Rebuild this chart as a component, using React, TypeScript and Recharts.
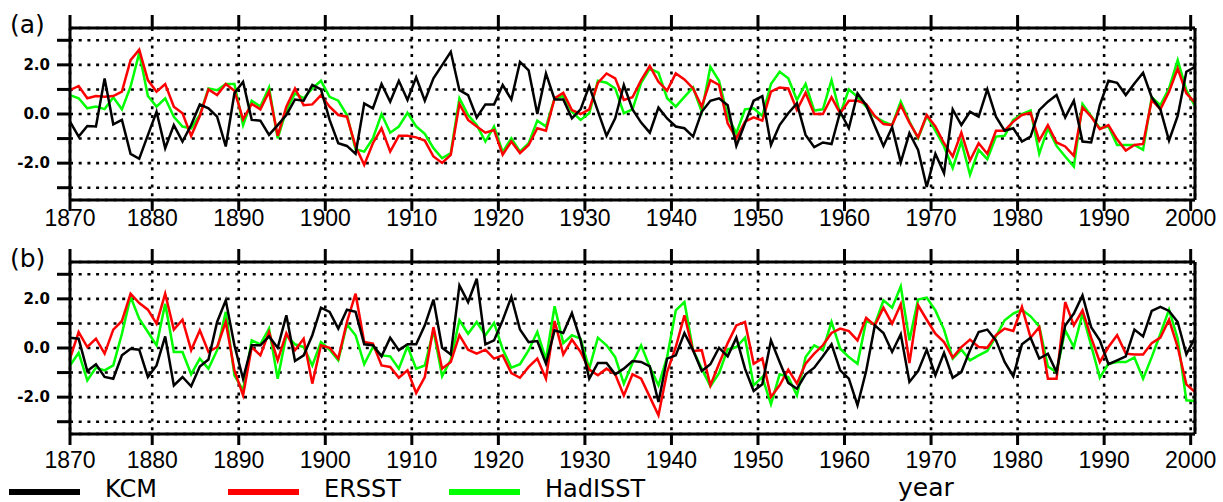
import React from "react";
import { LineChart, Line, XAxis, YAxis, CartesianGrid } from "recharts";

// years 1870..2000, plotted at mid-year
const years = Array.from({ length: 131 }, (_, i) => 1870 + i);

const kcmA = [
  -0.31, -0.92, -0.49, -0.51, 1.45, -0.42, -0.24, -1.62, -1.82, -0.86,
  0.09, -1.39, -0.45, -1.12, -0.45, 0.39, 0.23, -0.11, -1.32, 0.84,
  1.31, -0.24, -0.27, -0.85, -0.45, -0.04, 0.59, 0.54, 1.18, 1.0,
  -0.24, -1.19, -1.3, -1.62, 0.43, 0.23, 1.22, 0.5, 1.35, 0.57,
  1.49, 0.54, 1.45, 1.99, 2.53, 0.97, 0.77, -0.14, 0.39, 0.39,
  1.18, 0.59, 2.12, 1.78, 0.0, 1.65, 0.59, 0.59, -0.18, 0.19,
  1.14, 0.12, -0.89, -0.18, 1.18, 0.19, -0.35, -0.76, 0.26, -0.18,
  -0.51, -0.58, -0.92, 0.09, 0.54, 0.64, 0.36, -1.3, -0.38, 0.54,
  0.73, -1.26, -0.45, 0.03, 0.43, -0.85, -1.35, -1.16, -1.22, 0.09,
  -0.58, 0.84, 0.36, -0.49, -1.3, -0.54, -1.97, -0.78, -1.46, -2.97,
  -1.62, -2.41, 0.19, -0.45, 0.09, -0.11, 1.0, -0.11, -0.68, -0.58,
  -1.12, -0.92, 0.16, 0.5, 0.77, -0.14, 0.54, -1.12, -1.16, 0.36,
  1.35, 1.27, 0.77, 1.24, 1.68, 0.68, 0.19, -1.08, -0.08, 1.72, 1.92,
];
const ersstA = [
  0.97, 1.14, 0.64, 0.73, 0.7, 0.73, 0.91, 2.19, 2.62, 1.38,
  0.91, 1.22, 0.3, 0.03, -0.89, -0.08, 1.0, 0.77, 1.22, 0.95,
  -0.22, 0.41, 0.19, 0.91, -0.89, 0.3, 1.04, 0.36, 0.39, 0.77,
  0.3, -0.04, -0.11, -1.32, -2.07, -1.19, -0.58, -1.53, -0.89, -0.89,
  -0.95, -1.08, -1.73, -1.99, -1.66, 0.41, -0.24, -0.51, -0.76, -0.65,
  -1.66, -1.12, -1.59, -1.26, -0.58, -0.68, 0.64, 0.86, 0.16, 0.0,
  0.19, 1.27, 1.65, 1.45, 0.57, 0.68, 1.38, 1.95, 1.31, 0.95,
  1.65, 1.41, 1.04, 0.3, 1.38, 1.18, -0.38, -0.99, -0.31, -0.14,
  -0.27, 0.91, 1.08, 1.04, 0.16, 0.86, 0.0, 0.0, 0.68, 0.03,
  0.54, 0.54, 0.41, -0.08, -0.41, -0.45, 0.36, -0.35, -0.95, -0.04,
  -0.51, -1.19, -1.73, -0.76, -1.89, -1.19, -1.62, -0.68, -0.68, -0.31,
  -0.04, 0.05, -1.08, -0.45, -1.16, -1.32, -1.7, 0.27, -0.11, -0.62,
  -0.45, -1.03, -1.49, -1.26, -1.22, 0.57, 0.19, 0.91, 1.85, 0.84, 0.46,
];
const hadA = [
  0.77, 0.64, 0.23, 0.3, 0.2, 0.68, 0.19, 1.11, 2.49, 0.73,
  0.3, 0.64, -0.11, -0.51, -0.58, -0.04, 1.04, 0.97, 1.22, 1.22,
  -0.45, 0.54, 0.3, 1.08, -0.99, 0.16, 0.84, 0.64, 1.04, 1.35,
  0.7, 0.54, -0.04, -1.43, -1.53, -0.99, 0.0, -0.76, -0.51, 0.05,
  -0.51, -0.81, -1.39, -1.8, -1.59, 0.64, -0.04, -0.45, -1.12, -0.51,
  -1.55, -0.99, -1.53, -1.19, -0.27, -0.51, 0.64, 0.73, 0.09, -0.24,
  0.03, 1.35, 1.27, 1.04, 0.03, 0.19, 1.27, 1.85, 1.68, 0.64,
  0.3, 0.7, 1.08, 0.09, 1.92, 1.35, -0.1, -0.78, 0.19, 0.23,
  -0.08, 1.22, 1.72, 1.45, 0.57, 1.22, 0.14, 0.19, 1.38, 0.0,
  1.0, 0.7, 0.3, -0.11, -0.31, -0.45, 0.5, -0.31, -0.99, -0.08,
  -0.68, -1.32, -2.2, -1.12, -2.47, -1.46, -1.84, -0.92, -0.89, -0.24,
  0.0, 0.14, -1.62, -0.58, -1.3, -1.73, -2.14, 0.41, -0.08, -0.58,
  -0.51, -1.26, -1.26, -1.26, -1.46, 0.68, 0.36, 1.04, 2.19, 0.97, 0.32,
];

const kcmB = [
  0.42, 0.38, -0.94, -0.66, -1.18, -1.25, -0.3, -0.03, -0.07, -1.18,
  -0.71, 0.47, -1.52, -1.18, -1.56, -0.75, -0.47, 1.06, 1.94, 0.11,
  -1.25, 0.11, 0.11, 0.47, 0.01, 1.33, -0.53, -0.3, 0.52, 1.64,
  1.47, 0.79, 1.56, 1.47, 0.15, 0.11, -0.34, 0.42, -0.09, 0.15,
  0.15, 0.92, 1.97, 0.01, -0.26, 2.55, 1.87, 2.82, 0.15, 0.31,
  1.13, 2.08, 0.75, 0.24, 0.28, -0.64, 0.72, 0.61, 1.42, 0.31,
  -1.25, -0.61, -0.61, -1.07, -0.84, -0.53, -0.57, -0.75, -2.2, -0.43,
  -0.3, 0.61, -0.09, -0.94, -0.66, 0.01, -0.34, 0.42, -0.84, -1.75,
  -1.48, 0.31, -0.57, -1.42, -1.66, -1.07, -0.8, -0.34, 0.15, -0.91,
  -1.25, -2.33, -0.94, 0.92, 0.61, -0.16, 0.56, -1.38, -0.94, -0.07,
  -1.11, -0.2, -1.21, -0.98, -0.09, 0.65, 0.75, 0.31, -0.57, -1.15,
  0.15, 0.42, -0.43, -0.23, -0.98, 0.92, 1.4, 2.14, 0.85, 0.31,
  -0.66, -0.5, -0.34, 0.75, 0.47, 1.51, 1.67, 1.51, 1.06, -0.26, 0.42,
];
const ersstB = [
  -0.43, 0.65, 0.04, 0.38, -0.23, 0.75, 1.1, 2.21, 1.83, 1.56,
  0.99, 2.21, 0.75, 1.15, -0.09, 0.72, -0.16, 0.04, 1.06, -0.91,
  -1.93, 0.04, -0.3, 0.65, -0.5, 0.6, -0.09, 0.38, -1.45, 0.11,
  0.01, -0.43, 1.06, 2.21, 0.24, 0.18, -0.71, -0.77, -1.21, -0.91,
  -1.83, -1.18, 0.85, -0.84, -0.57, 0.52, -0.07, -0.23, -0.07, -0.43,
  -0.3, -1.02, -1.21, -0.77, -0.43, -1.25, 1.1, -0.26, 0.34, -0.16,
  -0.88, -1.11, -0.84, -1.07, -1.93, -1.07, -1.25, -1.99, -2.74, -0.98,
  0.04, 1.33, -0.12, -0.09, -1.52, -0.64, 0.2, 0.92, 1.06, -0.64,
  -0.43, -1.99, -1.52, -0.88, -1.45, -0.64, -0.23, 0.11, 0.61, 0.79,
  0.69, 0.31, 1.23, 0.92, 1.64, 0.99, 1.78, -0.61, 1.74, 1.15,
  0.58, 0.24, -0.39, 0.04, 0.34, 0.04, 0.01, 0.52, 0.79, 0.69,
  1.67, 0.42, 0.85, -1.25, -1.25, 1.87, 0.92, 1.53, 0.42, -0.57,
  0.04, 0.52, -0.23, -0.26, -0.26, 0.2, 0.42, 1.15, 0.04, -1.48, -1.79,
];
const hadB = [
  -0.71, -0.2, -1.32, -0.8, -0.91, -0.71, 0.58, 2.08, 1.19, 0.65,
  0.11, 1.8, -0.16, -0.16, -1.07, -0.43, -0.84, -0.09, 1.47, -1.11,
  -1.72, 0.31, 0.15, 0.79, -1.25, 0.52, 0.15, 0.04, -0.71, 0.24,
  -0.07, -0.5, 0.96, 0.52, -0.66, 0.04, -0.3, -0.34, -0.84, 0.07,
  -0.84, -0.71, 0.72, -1.15, -0.47, 1.13, 0.58, 1.06, 0.52, 1.02,
  -0.05, -0.8, -0.66, -0.09, 0.65, -0.47, 1.7, 0.2, 0.52, 0.38,
  -0.84, 0.42, 0.11, -0.37, -1.45, -0.61, 0.11, -0.77, -1.52, -0.37,
  1.53, 1.87, -0.09, -0.84, -1.56, -1.02, -0.05, 0.04, 0.42, -1.52,
  -1.18, -2.29, -1.07, -1.18, -1.93, -0.37, 0.11, -0.09, 1.06, -0.03,
  -0.37, -0.64, 1.1, 0.96, 1.94, 1.64, 2.51, 0.31, 1.97, 2.05,
  1.53, 0.75, -0.43, -0.07, -0.5, -0.3, -0.12, 0.47, 1.13, 1.4,
  1.56, 1.29, 0.88, -0.75, -0.98, 0.72, 0.04, 1.4, 0.11, -1.21,
  -0.64, -0.57, -0.57, -0.39, -1.25, -0.37, 0.58, 1.56, 0.38, -2.13, -2.16,
];

const xTicks = [1870.5, 1880, 1890, 1900, 1910, 1920, 1930, 1940, 1950, 1960, 1970, 1980, 1990, 2000];
const yTicks = [-3, -2, -1, 0, 1, 2, 3];
const series = [
  { key: "kcm", name: "KCM", color: "#000000" },
  { key: "ersst", name: "ERSST", color: "#ff0000" },
  { key: "had", name: "HadISST", color: "#00ff00" },
];

const X_DOMAIN: [number, number] = [1870.5, 2000.5];
const Y_DOMAIN: [number, number] = [-3.5, 3.5];
const axisLine = { stroke: "#000", strokeWidth: 3 };
const tickLine = { stroke: "#000", strokeWidth: 3 };

function buildRows(kcm: number[], ersst: number[], had: number[]) {
  return years.map((y, i) => ({ x: y + 0.5, kcm: kcm[i], ersst: ersst[i], had: had[i] }));
}

function Panel({
  rows,
  label,
  top,
  labelGap,
}: {
  rows: any[];
  label: string;
  top: number;
  labelGap: number;
}) {
  return (
    <div style={{ position: "absolute", left: 0, top, width: 1223, height: 250 }}>
      <div
        style={{
          position: "absolute",
          left: 10,
          top: 10,
          fontFamily: "DejaVu Sans",
          fontSize: 25,
          lineHeight: "30px",
        }}
      >
        {label}
      </div>
      <LineChart width={1223} height={250} data={rows} margin={{ top: 14, right: 8, bottom: 0, left: 0 }}>
        <CartesianGrid
          xAxisId="b"
          yAxisId="l"
          stroke="#000"
          strokeWidth={2.6}
          strokeDasharray="3 5.7"
        />
        <XAxis
          xAxisId="t"
          orientation="top"
          type="number"
          dataKey="x"
          domain={X_DOMAIN}
          ticks={xTicks}
          interval={0}
          height={14}
          tickSize={13}
          axisLine={axisLine}
          tickLine={tickLine}
          tickFormatter={() => ""}
        />
        <XAxis
          xAxisId="b"
          type="number"
          dataKey="x"
          domain={X_DOMAIN}
          ticks={xTicks}
          interval={0}
          height={50}
          tickSize={11}
          tickMargin={labelGap}
          axisLine={axisLine}
          tickLine={tickLine}
          tick={{ fill: "#000", fontSize: 23, fontFamily: "Liberation Sans" }}
          tickFormatter={(v: number) => String(Math.floor(v))}
        />
        <YAxis
          yAxisId="l"
          type="number"
          domain={Y_DOMAIN}
          ticks={yTicks}
          interval={0}
          width={70}
          tickSize={13}
          tickMargin={7}
          axisLine={axisLine}
          tickLine={tickLine}
          tick={{ fill: "#000", fontSize: 15, fontWeight: "bold", fontFamily: "DejaVu Sans" }}
          tickFormatter={(v: number) => (v % 2 === 0 ? v.toFixed(1) : "")}
        />
        <YAxis
          yAxisId="r"
          orientation="right"
          type="number"
          domain={Y_DOMAIN}
          ticks={yTicks}
          interval={0}
          width={20}
          tickSize={13}
          axisLine={axisLine}
          tickLine={tickLine}
          tickFormatter={() => ""}
        />
        {[...series].reverse().map((s) => (
          <Line
            key={s.key}
            xAxisId="b"
            yAxisId="l"
            type="linear"
            dataKey={s.key}
            name={s.name}
            stroke={s.color}
            strokeWidth={2.5}
            dot={false}
            activeDot={false}
            isAnimationActive={false}
          />
        ))}
      </LineChart>
    </div>
  );
}

const legendX = [9, 228, 449];

export default function App() {
  const rowsA = buildRows(kcmA, ersstA, hadA);
  const rowsB = buildRows(kcmB, ersstB, hadB);
  return (
    <div style={{ position: "absolute", left: 0, top: 0, width: 1223, height: 502, background: "#fff", overflow: "hidden" }}>
      <Panel rows={rowsA} label="(a)" top={0} labelGap={-1} />
      <Panel rows={rowsB} label="(b)" top={234} labelGap={7} />
      <svg style={{ position: "absolute", left: 0, top: 470 }} width={1223} height={32}>
        {series.map((s, i) => (
          <g key={s.key}>
            <line x1={legendX[i]} x2={legendX[i] + 71} y1={22} y2={22} stroke={s.color} strokeWidth={6} />
            <text x={legendX[i] + 96} y={27} fontFamily="DejaVu Sans" fontSize={24} fill="#000">
              {s.name}
            </text>
          </g>
        ))}
        <text x={898} y={26} fontFamily="DejaVu Sans" fontSize={25} fill="#000">
          year
        </text>
      </svg>
    </div>
  );
}
